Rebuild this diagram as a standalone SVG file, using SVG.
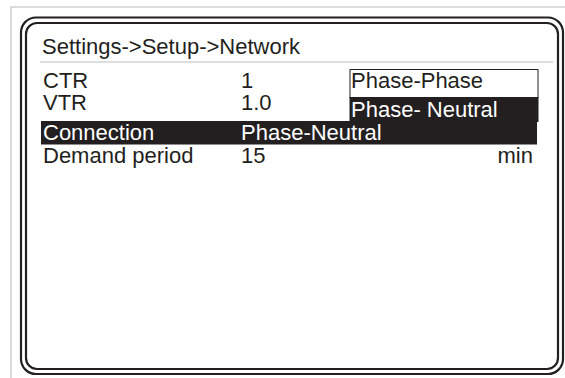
<svg xmlns="http://www.w3.org/2000/svg" width="565" height="378" viewBox="0 0 565 378">
<style>
.t{font-family:"Liberation Sans",Arial,sans-serif;font-size:22px;fill:#231f20}
.w{fill:#ffffff}
.frame{fill:none;stroke:#231f20;stroke-width:2.2}
.page{fill:none;stroke:#cfcfcf;stroke-width:1.5}
</style>
<rect width="565" height="378" fill="#ffffff"/>
<g id="page">
<path class="page" d="M11 378 V7 H565"/>
</g>
<g id="screen-frame">
<rect class="frame" x="21" y="17.5" width="542" height="356.5" rx="15" ry="15"/>
<rect class="frame" x="26" y="23" width="532" height="346" rx="11" ry="11"/>
</g>
<g id="title">
<text class="t" x="42" y="54">Settings-&gt;Setup-&gt;Network</text>
<line x1="40" y1="62" x2="553" y2="62" stroke="#bdbdbd" stroke-width="1"/>
</g>
<g id="row-ctr">
<text class="t" x="43" y="88">CTR</text>
<text class="t" x="241" y="88">1</text>
</g>
<g id="row-vtr">
<text class="t" x="43" y="110">VTR</text>
<text class="t" x="241" y="110">1.0</text>
</g>
<g id="row-connection">
<rect x="41" y="121" width="496" height="23.5" fill="#231f20"/>
<text class="t w" x="43" y="140">Connection</text>
<text class="t w" x="241" y="140">Phase-Neutral</text>
</g>
<g id="row-demand">
<text class="t" x="43" y="163">Demand period</text>
<text class="t" x="241" y="163">15</text>
<text class="t" x="533" y="163" text-anchor="end">min</text>
</g>
<g id="dropdown">
<rect x="350" y="69.5" width="188" height="28" fill="#ffffff" stroke="#231f20" stroke-width="1"/>
<rect x="349.5" y="97" width="189" height="25" fill="#231f20"/>
<text class="t" x="351" y="88">Phase-Phase</text>
<text class="t w" x="351" y="117">Phase- Neutral</text>
</g>
</svg>
